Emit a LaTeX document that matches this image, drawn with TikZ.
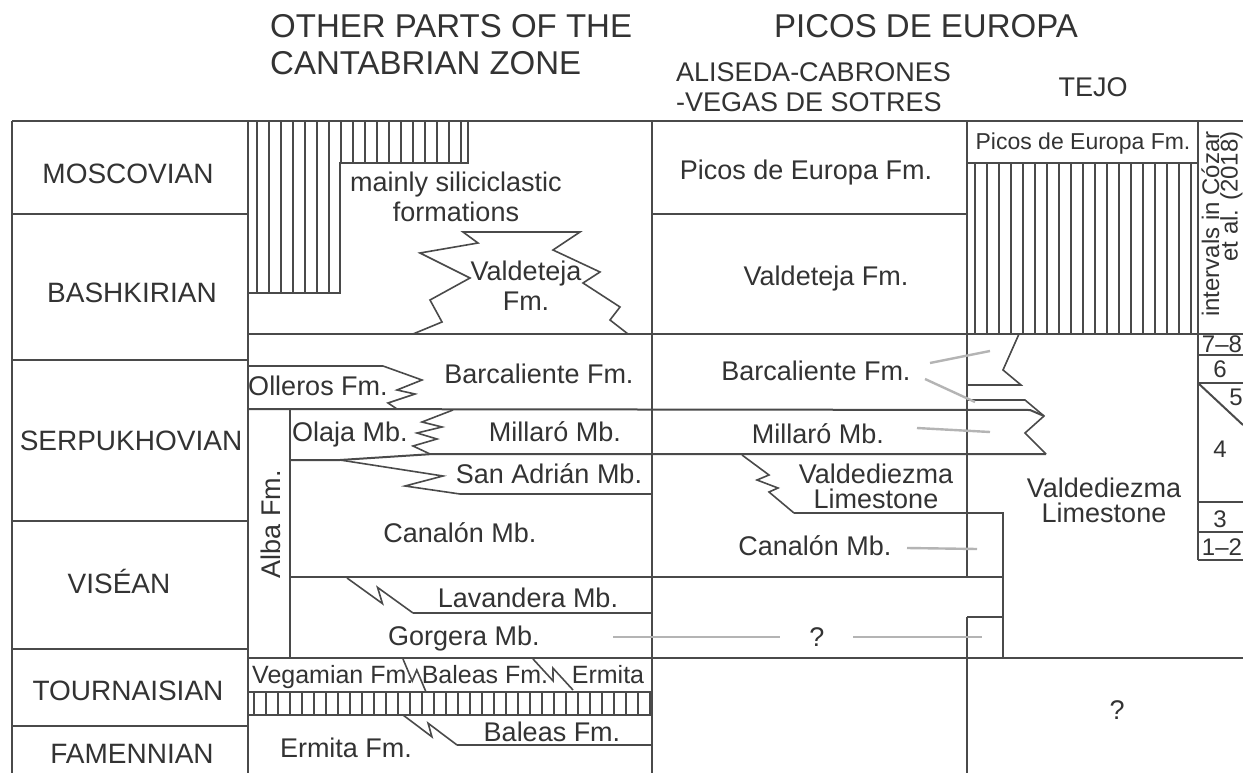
\documentclass[tikz,border=0pt]{standalone}
\usepackage{fontspec}
\setmainfont{Liberation Sans}
\usetikzlibrary{calc}
\definecolor{ln}{HTML}{4A4A4A}
\definecolor{txt}{HTML}{333333}
\definecolor{ptrc}{HTML}{B4B4B4}
\newcommand\zzl[3]{\draw[zz] (#1) -- ($(#1)!0.58!(#2)!#3!-90:(#2)$) -- ($(#1)!0.42!(#2)!#3!90:(#2)$) -- (#2);}
\begin{document}
\begin{tikzpicture}[x=1pt,y=-1pt,
  every node/.style={inner sep=0pt, text=txt},
  frame/.style={draw=ln, line width=2pt},
  hatchln/.style={draw=ln, line width=2.2pt},
  ptr/.style={draw=ptrc, line width=2.4pt},
  zz/.style={draw=ln, line width=1.6pt},
  hd/.style={font=\fontsize{33}{36}\selectfont},
  shd/.style={font=\fontsize{27}{30}\selectfont},
  stg/.style={font=\fontsize{28}{30}\selectfont},
  fm/.style={font=\fontsize{27}{30}\selectfont},
  sfm/.style={font=\fontsize{25}{27}\selectfont},
  num/.style={font=\fontsize{24}{26}\selectfont},
]
\useasboundingbox (0,0) rectangle (1243,773);
\fill[white] (0,0) rectangle (1243,773);

% ---------------- headers
\node[hd, anchor=base west] (h1) at (270,38) {OTHER PARTS OF THE};
\node[hd, anchor=base west] (h2) at (270,75) {CANTABRIAN ZONE};
\node[hd, anchor=base] (h3) at (926,38) {PICOS DE EUROPA};
\node[shd, anchor=base west] (h4) at (676,82) {ALISEDA-CABRONES};
\node[shd, anchor=base west] (h5) at (676,112) {-VEGAS DE SOTRES};
\node[shd, anchor=base] (h6) at (1093,97) {TEJO};

% ---------------- hatching
\foreach \k in {0,...,6} \draw[hatchln] (257+12*\k,121) -- (257+12*\k,293);
\foreach \k in {7,...,17} \draw[hatchln] (257+12*\k,121) -- (257+12*\k,163);
\foreach \k in {0,...,18} \draw[hatchln] (975+12*\k,163) -- (975+12*\k,334);
\foreach \k in {0,...,33} \draw[hatchln] (254+12*\k,692) -- (254+12*\k,715);

% ---------------- frame and main columns
\draw[frame] (12,121) -- (1243,121);
\draw[frame] (12,121) -- (12,773);
\draw[frame] (248,121) -- (248,773);
\draw[frame] (652,121) -- (652,773);
\draw[frame] (967,121) -- (967,577);
\draw[frame] (967,617) -- (967,773);
\draw[frame] (1198,121) -- (1198,560);
% stage boundaries
\foreach \yy in {214,360,521,649,726} \draw[frame] (12,\yy) -- (248,\yy);

% ---------------- column 2 (other parts)
\draw[frame] (468,121) -- (468,163) -- (340,163) -- (340,293) -- (248,293);
\draw[frame] (248,334) -- (1243,334);
% Valdeteja tongue
\draw[zz] (413,334) -- (442,322) -- (430,300) -- (470,278) -- (420,253) -- (478,243) -- (463,232)
          -- (580,232) -- (553,250) -- (600,272) -- (583,283) -- (620,307) -- (610,320) -- (628,334);
% Olleros
\draw[frame] (248,366) -- (383,366);
\draw[zz] (383,366) -- (422,380) -- (397,390) -- (415,394) -- (388,403) -- (397,409);
\draw[frame] (248,409) -- (1030,410) -- (1044,416);
% Alba Fm. column
\draw[frame] (290,409) -- (290,658);
% Olaja / Millaro
\draw[zz] (453,410) -- (422,422) -- (442,427) -- (417,433) -- (437,439) -- (413,446) -- (430,454);
\draw[frame] (290,460) -- (340,460) -- (433,454) -- (1046,454);
% San Adrian
\draw[zz] (340,460) -- (443,476) -- (405,486) -- (460,494);
\draw[frame] (460,494) -- (652,494);
% Canalon / Lavandera
\draw[frame] (290,577) -- (1003,577);
\zzl{347,578}{413,613}{6pt}
\draw[frame] (413,613) -- (652,613);
% Tournaisian
\draw[frame] (248,658) -- (1243,658);
\draw[frame] (248,692) -- (652,692);
\draw[frame] (248,715) -- (652,715);
\zzl{403,659}{426,692}{5pt}
\zzl{533,659}{573,690}{5pt}
\zzl{403,715}{457,745}{5pt}
\draw[frame] (457,745) -- (652,745);

% ---------------- column 3 and Tejo
\draw[frame] (652,214) -- (967,214);
\draw[frame] (967,163) -- (1198,163);
% Barcaliente tongue in Tejo
\draw[zz] (1019,334) -- (1003,370) -- (1021,385) -- (967,385);
% lower Barcaliente + Millaro tongue
\draw[zz] (967,400) -- (1025,400) -- (1044,416) -- (1025,433) -- (1046,454);
% Valdediezma wedge in col 3
\draw[zz] (742,455) -- (769,475) -- (757,480) -- (778,488) -- (769,492) -- (794,513);
\draw[frame] (794,513) -- (1003,513) -- (1003,658);
\draw[frame] (967,617) -- (1003,617);

% ---------------- intervals column
\foreach \yy in {355,383,502,532,560} \draw[frame] (1198,\yy) -- (1243,\yy);
\draw[frame] (1198,383) -- (1243,425);

% ---------------- pointer lines
\coordinate (pA) at (613,637); \coordinate (pB) at (780,637);
\coordinate (pC) at (853,637); \coordinate (pD) at (982,637);
\draw[ptr] (pA) -- (pB);
\draw[ptr] (pC) -- (pD);
\coordinate (pE) at (930,363); \coordinate (pF) at (990,351);
\coordinate (pG) at (925,379); \coordinate (pH) at (975,402);
\coordinate (pI) at (917,428); \coordinate (pJ) at (990,432);
\coordinate (pK) at (907,548); \coordinate (pL) at (977,549);
\draw[ptr] (pE) -- (pF);
\draw[ptr] (pG) -- (pH);
\draw[ptr] (pI) -- (pJ);
\draw[ptr] (pK) -- (pL);

% ---------------- stage labels
\node[stg, anchor=base] (s1) at (128,184) {MOSCOVIAN};
\node[stg, anchor=base] (s2) at (132,302) {BASHKIRIAN};
\node[stg, anchor=base] (s3) at (131,450) {SERPUKHOVIAN};
\node[stg, anchor=base] (s4) at (119,593) {VISÉAN};
\node[stg, anchor=base] (s5) at (128,700) {TOURNAISIAN};
\node[stg, anchor=base] (s6) at (132,763) {FAMENNIAN};

% ---------------- column 2 labels
\node[fm, anchor=base] (c2a) at (456,192) {mainly siliciclastic};
\node[fm, anchor=base] (c2b) at (456,222) {formations};
\node[fm, anchor=base] (c2c) at (526,280) {Valdeteja};
\node[fm, anchor=base] (c2d) at (526,310) {Fm.};
\node[fm, anchor=base] (c2e) at (318,395) {Olleros Fm.};
\node[fm, anchor=base] (c2f) at (539,383) {Barcaliente Fm.};
\node[fm, anchor=base] (c2g) at (350,441) {Olaja Mb.};
\node[fm, anchor=base] (c2h) at (555,441) {Millaró Mb.};
\node[fm, anchor=base] (c2i) at (549,483) {San Adrián Mb.};
\node[fm, anchor=base] (c2j) at (460,542) {Canalón Mb.};
\node[fm, rotate=90] (c2k) at (271,524) {Alba Fm.};
\node[fm, anchor=base] (c2l) at (528,607) {Lavandera Mb.};
\node[fm, anchor=base] (c2m) at (464,645) {Gorgera Mb.};
\node[sfm, anchor=base west] (c2n) at (252,683) {Vegamian Fm.};
\node[sfm, anchor=base] (c2o) at (485,683) {Baleas Fm.};
\node[sfm, anchor=base] (c2p) at (608,683) {Ermita};
\node[fm, anchor=base] (c2q) at (552,741) {Baleas Fm.};
\node[fm, anchor=base] (c2r) at (346,757) {Ermita Fm.};

% ---------------- column 3 labels
\node[fm, anchor=base] (c3a) at (806,180) {Picos de Europa Fm.};
\node[fm, anchor=base] (c3b) at (826,285) {Valdeteja Fm.};
\node[fm, anchor=base] (c3c) at (816,380) {Barcaliente Fm.};
\node[fm, anchor=base] (c3d) at (818,443) {Millaró Mb.};
\node[fm, anchor=base] (c3e) at (876,483) {Valdediezma};
\node[fm, anchor=base] (c3f) at (876,508) {Limestone};
\node[fm, anchor=base] (c3g) at (815,555) {Canalón Mb.};
\node[fm] (c3h) at (817,637) {?};

% ---------------- Tejo labels
\node[font=\fontsize{23}{25}\selectfont, anchor=base] (t1) at (1083,150) {Picos de Europa Fm.};
\node[fm, anchor=base] (t2) at (1104,497) {Valdediezma};
\node[fm, anchor=base] (t3) at (1104,522) {Limestone};
\node[fm] (t4) at (1117,710) {?};

% ---------------- intervals
\node[font=\fontsize{24}{17}\selectfont, rotate=90, align=right] (iv) at (1222,224) {intervals in Cózar\\et al. (2018)};
\node[num] (n78) at (1222,344) {7–8};
\node[num] (n6) at (1220,369) {6};
\node[num] (n5) at (1236,397) {5};
\node[num] (n4) at (1220,449) {4};
\node[num] (n3) at (1220,519) {3};
\node[num] (n12) at (1222,547) {1–2};
\end{tikzpicture}
\end{document}
